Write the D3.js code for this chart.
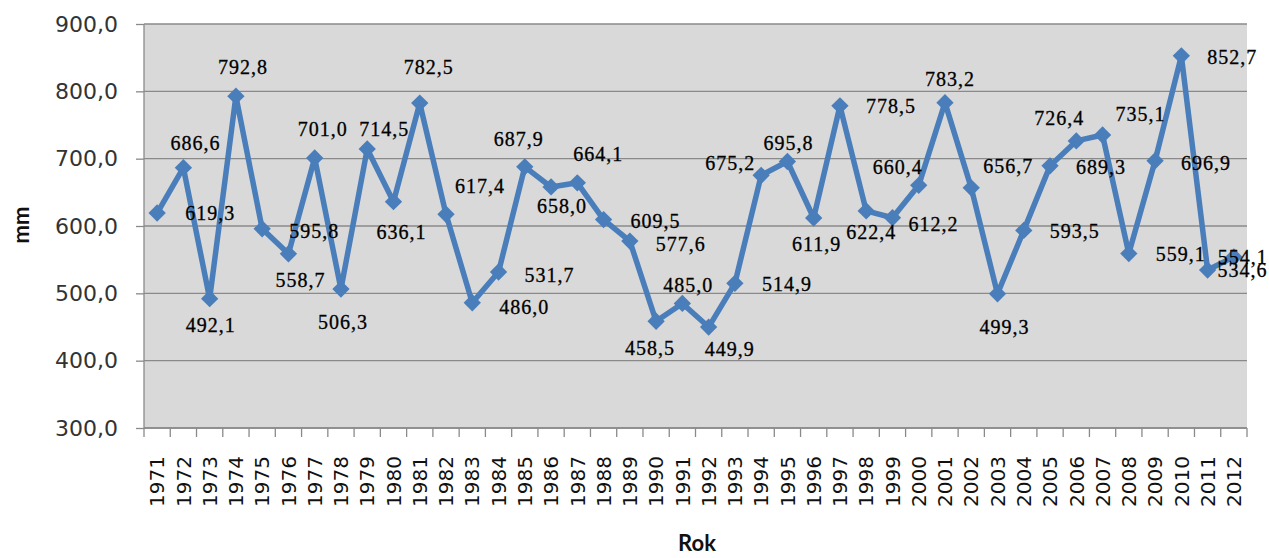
<!DOCTYPE html>
<html>
<head>
<meta charset="utf-8">
<script src="https://cdn.jsdelivr.net/npm/d3@7"></script>
<style>
  html, body { margin: 0; padding: 0; background: #fff; }
  svg { display: block; }
</style>
</head>
<body>
<svg id="chart" width="1269" height="558"></svg>
<script>
// ---- data ----
const years = ["1971","1972","1973","1974","1975","1976","1977","1978","1979","1980",
  "1981","1982","1983","1984","1985","1986","1987","1988","1989","1990",
  "1991","1992","1993","1994","1995","1996","1997","1998","1999","2000",
  "2001","2002","2003","2004","2005","2006","2007","2008","2009","2010",
  "2011","2012"];
const rainfall = [619.3,686.6,492.1,792.8,595.8,558.7,701.0,506.3,714.5,636.1,
  782.5,617.4,486.0,531.7,687.9,658.0,664.1,609.5,577.6,458.5,
  485.0,449.9,514.9,675.2,695.8,611.9,778.5,622.4,612.2,660.4,
  783.2,656.7,499.3,593.5,689.3,726.4,735.1,559.1,696.9,852.7,
  534.6,554.1];
const yTicks = [300,400,500,600,700,800,900];
const yTitle = "mm";
const xTitle = "Rok";

// ---- layout (label offsets from their point, px) ----
const labelDx = [53,12,1,7,52,12,8,2,17,8, 9,34,52,51,-6,11,21,52,51,-6,
  6,21,52,-31,1,3,51,5,41,-21, 5,37,7,51,51,-17,38,52,51,51, 35,9];
const labelDy = [0,-25,26,-29,2,26,-29,33,-20,30, -36,-28,4,3,-28,19,-29,1,3,27,
  -18,22,1,-12,-18,26,0,21,6,-18, -24,-22,33,1,1,-23,-21,0,2,1, 0,0];

const svg = d3.select("#chart");
const mLeft = 144, mRight = 1247, mTop = 24, mBottom = 428;

const x = d3.scaleBand().domain(years).range([mLeft, mRight]).padding(0);
const y = d3.scaleLinear().domain([300, 900]).range([mBottom, mTop]);
const fmt = v => d3.format(".1f")(v).replace(".", ",");

// plot background
svg.append("rect")
  .attr("x", mLeft).attr("y", y(900))
  .attr("width", mRight - mLeft).attr("height", y(300) - y(900))
  .attr("fill", "#d9d9d9");

// gridlines
svg.append("g").selectAll("line").data(yTicks).join("line")
  .attr("x1", mLeft).attr("x2", mRight)
  .attr("y1", d => y(d)).attr("y2", d => y(d))
  .attr("stroke", "#8a8a8a").attr("stroke-width", 1.3);

// y axis
const yAxis = svg.append("g").attr("transform", `translate(${mLeft},0)`)
  .call(d3.axisLeft(y).tickValues(yTicks).tickFormat(fmt).tickSize(8).tickPadding(18));
yAxis.selectAll("path, line").attr("stroke", "#8a8a8a").attr("stroke-width", 1.3);
yAxis.select(".domain").attr("d", `M0,${y(300)}V${y(900)}`);
yAxis.selectAll("text")
  .attr("font-family", "DejaVu Sans").attr("font-size", 22).attr("fill", "#333");

// x axis line and boundary ticks
svg.append("line")
  .attr("x1", mLeft).attr("x2", mRight).attr("y1", y(300)).attr("y2", y(300))
  .attr("stroke", "#8a8a8a").attr("stroke-width", 1.3);
const bounds = years.map(d => x(d)).concat([x(years[years.length - 1]) + x.bandwidth()]);
svg.append("g").selectAll("line").data(bounds).join("line")
  .attr("x1", d => d).attr("x2", d => d)
  .attr("y1", y(300)).attr("y2", y(300) + 9)
  .attr("stroke", "#8a8a8a").attr("stroke-width", 1.3);

// year labels
svg.append("g").selectAll("text").data(years).join("text")
  .attr("transform", d => `translate(${x(d) + x.bandwidth() / 2},456) rotate(-90)`)
  .attr("text-anchor", "end").attr("dy", "0.36em")
  .attr("font-family", "DejaVu Sans").attr("font-size", 20).attr("fill", "#111")
  .text(d => d);

// axis titles
svg.append("text")
  .attr("transform", `translate(29,225) rotate(-90)`)
  .attr("text-anchor", "middle")
  .attr("font-family", "Lato").attr("font-weight", "bold").attr("font-size", 22)
  .attr("fill", "#111").text(yTitle);
svg.append("text")
  .attr("x", 697).attr("y", 551).attr("text-anchor", "middle")
  .attr("font-family", "Lato").attr("font-weight", "bold").attr("font-size", 22)
  .attr("fill", "#111").text(xTitle);

// series
const pts = years.map((d, i) => ({ year: d, v: rainfall[i], i }));
const cx = d => x(d.year) + x.bandwidth() / 2;
const line = d3.line().x(cx).y(d => y(d.v));
const blue = "#4a7ebb";
svg.append("path").datum(pts)
  .attr("d", line).attr("fill", "none")
  .attr("stroke", blue).attr("stroke-width", 5.5).attr("stroke-linejoin", "round");

const diamond = d3.symbol().type(d3.symbolSquare).size(150);
svg.append("g").selectAll("path").data(pts).join("path")
  .attr("d", diamond)
  .attr("transform", d => `translate(${cx(d)},${y(d.v)}) rotate(45)`)
  .attr("fill", blue);

// data labels
svg.append("g").selectAll("text").data(pts).join("text")
  .attr("x", d => cx(d) + labelDx[d.i])
  .attr("y", d => y(d.v) + labelDy[d.i])
  .attr("dy", "0.35em").attr("text-anchor", "middle")
  .attr("font-family", "Liberation Serif").attr("font-size", 20)
  .attr("letter-spacing", 1).attr("fill", "#000")
  .attr("stroke", "#000").attr("stroke-width", 0.3)
  .text(d => fmt(d.v));
</script>
</body>
</html>
